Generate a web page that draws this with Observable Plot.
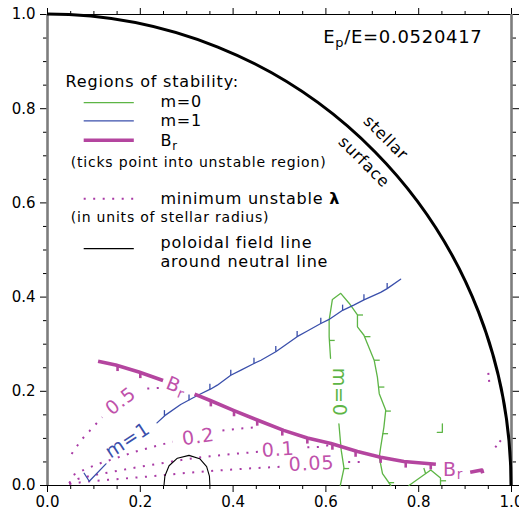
<!DOCTYPE html>
<html><head><meta charset="utf-8">
<script src="https://cdn.jsdelivr.net/npm/d3@7"></script>
<script src="https://cdn.jsdelivr.net/npm/@observablehq/plot@0.6"></script>
<style>
html,body{margin:0;padding:0;background:#fff;}
#chart svg{display:block;}
</style></head><body><div id="chart"></div>
<script>
// ---------- tick values ----------
const majorTicks = [0, 0.2, 0.4, 0.6, 0.8, 1.0];
const minorTicks = [0.05,0.1,0.15,0.25,0.3,0.35,0.45,0.5,0.55,0.65,0.7,0.75,0.85,0.9,0.95];
const surfaceRadius = 1.0;
const energyLabel = "E_p/E=0.0520417";

// ---------- m=0 stability boundary (green) ----------
const m0Lower = [[0.631,0.0],[0.639,0.037],[0.633,0.075],[0.628,0.131]];
const m0Upper = [[0.610,0.270],[0.607,0.316],[0.607,0.351],[0.614,0.395],[0.632,0.408],[0.650,0.387],[0.668,0.362],[0.668,0.337],[0.682,0.319],[0.704,0.266],[0.711,0.230],[0.715,0.195],[0.729,0.160],[0.725,0.124],[0.718,0.081],[0.715,0.060],[0.722,0.025],[0.740,0.0]];
const m0Corner = [[0.779,0.0],[0.826,0.033],[0.847,0.016],[0.847,0.002]];
const m0Fragment = [[0.840,0.113],[0.851,0.113],[0.851,0.131]];
const m0TicksRight = [[0.607,0.308],[0.638,0.036],[0.668,0.362],[0.684,0.316],[0.704,0.266],[0.714,0.209],[0.728,0.158],[0.722,0.110],[0.735,0.006],[0.847,0.010]];
const m0TicksUp = [[0.815,0.025]];

// ---------- m=1 stability boundary (blue) ----------
const m1Start = [[0.079,0.026],[0.090,0.009],[0.126,0.046]];
const m1Main = [[0.236,0.133],[0.255,0.150],[0.287,0.172],[0.323,0.191],[0.352,0.205],[0.366,0.213],[0.395,0.234],[0.417,0.245],[0.445,0.259],[0.460,0.266],[0.492,0.284],[0.538,0.316],[0.560,0.328],[0.589,0.344],[0.606,0.352],[0.636,0.372],[0.660,0.383],[0.682,0.394],[0.718,0.410],[0.732,0.418],[0.761,0.438]];
const m1TicksUp = [[0.252,0.148],[0.305,0.181],[0.350,0.204],[0.395,0.234],[0.445,0.259],[0.492,0.284],[0.538,0.316],[0.589,0.344],[0.636,0.372],[0.682,0.394],[0.732,0.418]];

// ---------- B_r stability boundary (magenta) ----------
const brLeft = [[0.109,0.264],[0.147,0.256],[0.197,0.241],[0.249,0.223]];
const brMain = [[0.317,0.194],[0.352,0.180],[0.402,0.159],[0.452,0.139],[0.509,0.117],[0.560,0.101],[0.611,0.089],[0.668,0.072],[0.718,0.060],[0.768,0.051],[0.837,0.045]];
const brHook = [[0.911,0.028],[0.936,0.033],[0.938,0.026]];
const brTicksDown = [[0.151,0.255],[0.200,0.240],[0.352,0.180],[0.402,0.159],[0.452,0.139],[0.506,0.118],[0.560,0.101],[0.614,0.088],[0.664,0.073],[0.718,0.060],[0.772,0.050],[0.826,0.046]];

// ---------- minimum unstable wavelength contours (dotted) ----------
const lam05a = [[0.052,0.067],[0.063,0.083],[0.075,0.099],[0.090,0.115],[0.104,0.130],[0.118,0.145]];
const lam05b = [[0.215,0.206],[0.240,0.207]];
const lam02a = [[0.047,0.005],[0.055,0.022],[0.080,0.034],[0.110,0.046],[0.150,0.059],[0.190,0.072],[0.230,0.083],[0.270,0.093]];
const lam02b = [[0.377,0.117],[0.415,0.121],[0.455,0.124]];
const lam01a = [[0.047,0.004],[0.065,0.014],[0.100,0.022],[0.150,0.031],[0.200,0.040],[0.250,0.048],[0.300,0.056],[0.350,0.062],[0.400,0.067],[0.460,0.072]];
const lam01b = [[0.560,0.081],[0.586,0.082],[0.609,0.086]];
const lam005a = [[0.047,0.003],[0.080,0.008],[0.130,0.012],[0.180,0.016],[0.230,0.020],[0.300,0.027],[0.370,0.032],[0.430,0.036],[0.505,0.040]];
const lam005b = [[0.648,0.050],[0.675,0.050]];
const lamEdgeA = [[0.950,0.239],[0.952,0.220]];
const lamEdgeB = [[0.965,0.081],[0.977,0.096]];

// ---------- neutral-line poloidal field line ----------
const fieldLine = [[0.251,0.0],[0.253,0.020],[0.262,0.042],[0.280,0.058],[0.305,0.064],[0.328,0.057],[0.343,0.040],[0.349,0.020],[0.350,0.0]];

// ---------- in-plot labels ----------
const contourLabels = [
  {text:"0.5", x:0.158, y:0.179, rotate:-38},
  {text:"0.2", x:0.325, y:0.103, rotate:-8},
  {text:"0.1", x:0.497, y:0.076, rotate:-4},
  {text:"0.05", x:0.569, y:0.046, rotate:-3}
];
const curveLabels = [
  {text:"m=1", x:0.173, y:0.096, rotate:-33, key:"m1"},
  {text:"m=0", x:0.628, y:0.198, rotate:90, key:"m0"},
  {text:"B_r", x:0.278, y:0.211, rotate:22, key:"br"},
  {text:"B_r", x:0.874, y:0.034, rotate:0, key:"br"}
];
const surfaceLabels = [
  {text:"stellar", x:0.729, y:0.738},
  {text:"surface", x:0.682, y:0.687}
];

// ---------- legend ----------
const legendTitle = "Regions of stability:";
const legendLines = ["m=0","m=1","B_r","minimum unstable λ","poloidal field line"];
const legendNotes = ["(ticks point into unstable region)","(in units of stellar radius)"];
const legendExtra = "around neutral line";

// ---------- styles / layout ----------
const green="#5db545", blue="#3a4fab", mag="#b4459f", magText="#bf52ab", dotMag="#a93aa5";
const T = 0.012; // tick length in data units (~5-6px)
const font = "DejaVu Sans";
const legendStyle = {
  "m=0": {y:0.813, ty:0.814, stroke:green, strokeWidth:1.3},
  "m=1": {y:0.774, ty:0.775, stroke:blue, strokeWidth:1.3},
  "B_r": {y:0.733, ty:0.731, stroke:mag, strokeWidth:3.6},
  "minimum unstable λ": {y:0.609, ty:0.609, stroke:dotMag, strokeWidth:2, strokeDasharray:"2,7.5"},
  "poloidal field line": {y:0.503, ty:0.516, stroke:"#000", strokeWidth:1.1}
};
const labelColor = {m1:blue, m0:green, br:magText};

const xy = {x: d=>d[0], y: d=>d[1]};
const L = (data, o) => Plot.line(data, {...xy, ...o});
const ticks = (data, dx, dy, o) => Plot.link(data, {x1:d=>d[0], y1:d=>d[1], x2:d=>d[0]+dx, y2:d=>d[1]+dy, ...o});
const dotted = {stroke:dotMag, strokeWidth:2, strokeDasharray:"2,7.5", strokeLinecap:"butt"};

const legendMarks = legendLines.flatMap(name => {
  const s = legendStyle[name];
  return [
    Plot.link([name], {x1:0.078, x2:0.186, y1:s.y, y2:s.y, stroke:s.stroke, strokeWidth:s.strokeWidth, strokeDasharray:s.strokeDasharray}),
    Plot.text([name], {x:0.2435, y:s.ty, text:d=>d, fill:"#000", fontSize:16, textAnchor:"start", lineAnchor:"middle"})
  ];
});

const chart = Plot.plot({
  width: 519, height: 520,
  marginLeft: 47, marginRight: 8, marginTop: 14, marginBottom: 35,
  x: {domain:[0,1], axis:null},
  y: {domain:[0,1], axis:null},
  style: {fontFamily: font, letterSpacing: "0.8px", background:"#fff"},
  marks: [
    // axes
    Plot.axisX(majorTicks, {anchor:"bottom", tickSize:7, tickPadding:4, tickFormat:d=>d.toFixed(1), label:null, fontSize:15}),
    Plot.axisX(minorTicks, {anchor:"bottom", tickSize:4, tickFormat:()=>"", label:null}),
    Plot.axisX(majorTicks, {anchor:"top", tickSize:7, tickFormat:()=>"", label:null}),
    Plot.axisX(minorTicks, {anchor:"top", tickSize:4, tickFormat:()=>"", label:null}),
    Plot.axisY(majorTicks, {anchor:"left", tickSize:7, tickPadding:5, tickFormat:d=>d.toFixed(1), label:null, fontSize:15}),
    Plot.axisY(minorTicks, {anchor:"left", tickSize:4, tickFormat:()=>"", label:null}),
    Plot.axisY(majorTicks, {anchor:"right", tickSize:7, tickFormat:()=>"", label:null}),
    Plot.axisY(minorTicks, {anchor:"right", tickSize:4, tickFormat:()=>"", label:null}),
    Plot.ruleY([0], {stroke:"#000", strokeWidth:1.2}),
    Plot.ruleY([1], {stroke:"#000", strokeWidth:1.2}),
    Plot.ruleX([0], {stroke:"#7d7d7d", strokeWidth:2.6}),
    Plot.ruleX([1], {stroke:"#7d7d7d", strokeWidth:2.6}),

    // dotted wavelength contours
    ...[lam05a, lam05b, lam02a, lam02b, lam01a, lam01b, lam005a, lam005b].map(a => L(a, dotted)),
    ...[lamEdgeA, lamEdgeB].map(a => L(a, {...dotted, strokeDasharray:"2,5"})),

    // field line
    L(fieldLine, {stroke:"#000", strokeWidth:1.1}),

    // m=0
    ...[m0Lower, m0Upper, m0Corner, m0Fragment].map(a => L(a, {stroke:green, strokeWidth:1.3})),
    ticks(m0TicksRight, T, 0, {stroke:green, strokeWidth:1.3}),
    ticks(m0TicksUp, -0.004, T, {stroke:green, strokeWidth:1.3}),

    // m=1
    ...[m1Start, m1Main].map(a => L(a, {stroke:blue, strokeWidth:1.3})),
    ticks(m1TicksUp, 0, T, {stroke:blue, strokeWidth:1.3}),

    // B_r
    ...[brLeft, brMain, brHook].map(a => L(a, {stroke:mag, strokeWidth:3.6, strokeLinecap:"butt"})),
    ticks(brTicksDown, 0, -T, {stroke:mag, strokeWidth:2.6}),

    // labels on curves
    Plot.text(contourLabels, {x:"x", y:"y", text:"text", rotate:"rotate", fill:magText, fontSize:19, textAnchor:"middle", lineAnchor:"middle"}),
    Plot.text(curveLabels, {x:"x", y:"y", text:"text", rotate:"rotate", fill:d=>labelColor[d.key], fontSize:19, textAnchor:"middle", lineAnchor:"middle"}),
    Plot.text(surfaceLabels, {x:"x", y:"y", text:"text", rotate:45, fill:"#000", fontSize:16, textAnchor:"middle", lineAnchor:"middle"}),
    Plot.text([energyLabel], {x:0.9375, y:0.951, text:d=>d, fill:"#000", fontSize:18, textAnchor:"end", lineAnchor:"middle"}),

    // legend
    Plot.text([legendTitle], {x:0.039, y:0.856, text:d=>d, fill:"#000", fontSize:16, textAnchor:"start", lineAnchor:"middle"}),
    ...legendMarks,
    Plot.text([legendExtra], {x:0.2435, y:0.474, text:d=>d, fill:"#000", fontSize:16, textAnchor:"start", lineAnchor:"middle"}),
    Plot.text(legendNotes, {x:0.050, y:(d,i)=>[0.686,0.569][i], text:d=>d, fill:"#000", fontSize:14, textAnchor:"start", lineAnchor:"middle"})
  ]
});

document.getElementById("chart").appendChild(chart);

// stellar surface: quarter circle of radius 1 drawn with the plot's scales
const sx = chart.scale("x"), sy = chart.scale("y");
const cx0 = sx.apply(0), cy0 = sy.apply(0);
const rx = sx.apply(surfaceRadius) - cx0, ry = cy0 - sy.apply(surfaceRadius);
d3.select(chart).append("path")
  .attr("d", `M${cx0},${cy0 - ry} A${rx},${ry} 0 0 1 ${cx0 + rx},${cy0}`)
  .attr("fill","none").attr("stroke","#000").attr("stroke-width",3);

// tick labels without extra letter spacing
d3.select(chart).selectAll('[aria-label$="tick label"]').style("letter-spacing","0px");

// subscripts (X_y) and bold lambda
d3.select(chart).selectAll("text").each(function(){
  const s = this.textContent;
  let fs = parseFloat(this.getAttribute("font-size"));
  if (!fs) fs = parseFloat(d3.select(this.parentNode).attr("font-size")) || 16;
  const m = s.match(/^(.*?)_(\w)(.*)$/);
  const t = d3.select(this);
  if (m) {
    const drop = m[3] ? 0.22 : 0.2;
    t.text(null);
    t.append("tspan").text(m[1]);
    t.append("tspan").attr("dy", fs*drop).attr("font-size", fs*0.72).text(m[2]);
    if (m[3]) {
      t.append("tspan").attr("dy", -fs*drop).text(m[3]);
      t.style("letter-spacing","0.7px");
    }
  } else if (s.endsWith("λ")) {
    t.text(null);
    t.append("tspan").text(s.slice(0,-1));
    t.append("tspan").attr("font-weight","bold").text("λ");
  }
});
</script>
</body></html>
